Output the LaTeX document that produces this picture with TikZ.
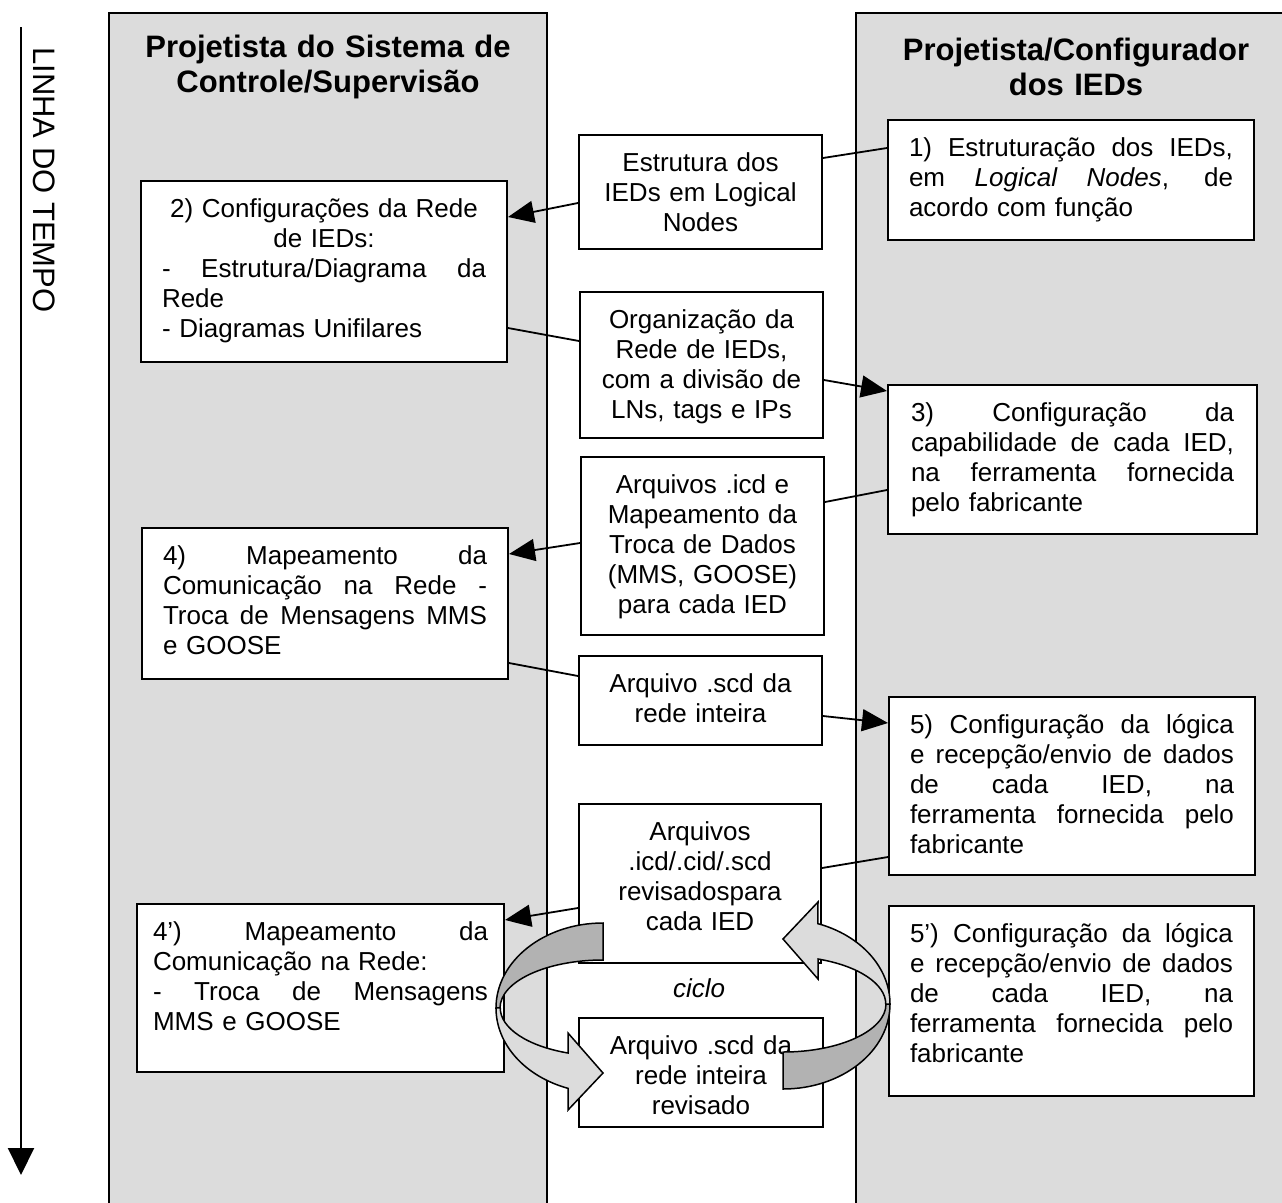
\documentclass[tikz,border=0pt]{standalone}
\usepackage{fontspec}
\setmainfont{Liberation Sans}
\usetikzlibrary{arrows.meta}

\definecolor{cinzaraia}{HTML}{DCDCDC}
\definecolor{cinzafita}{HTML}{B2B2B2}

% linha justificada (espacos esticados ate a largura da caixa)
\newcommand{\jl}[1]{\makebox[\linewidth][s]{\spaceskip=0pt\xspaceskip=0pt\relax #1}}

\tikzset{
  raia/.style={draw, fill=cinzaraia, line width=2pt, anchor=north west, inner sep=0pt,
    align=center, font=\fontsize{31}{35}\selectfont\bfseries},
  etapa/.style={draw, fill=white, line width=2pt, anchor=north west, inner xsep=21pt,
    inner ysep=6pt, text height=30pt, align=left, font=\fontsize{26}{30}\selectfont},
  arquivo/.style={etapa, inner xsep=10pt, align=center},
  liga/.style={line width=1.8pt},
  seta/.style={liga, -{Triangle[length=26pt,width=22pt]}},
  fita/.style={line width=1.5pt},
}

\begin{document}
\begin{tikzpicture}[x=1pt, y=-1pt]

\useasboundingbox (0,0) rectangle (1282,1202);

% raias dos dois projetistas
\node[raia, text width=438pt, text height=44pt, text depth=1166pt] (raiaSup) at (108,12)
  {Projetista do Sistema de\\Controle/Supervisão};
\node[raia, text width=440pt, text height=47pt, text depth=1163pt] (raiaIED) at (855,12)
  {Projetista/Configurador\\dos IEDs};

% linha do tempo
\coordinate (tIni) at (21,27);
\coordinate (tFim) at (21,1175);
\draw[line width=2pt, -{Triangle[length=27pt,width=26pt]}] (tIni) -- (tFim);
\node[rotate=-90, font=\fontsize{31}{35}\selectfont] (tempo) at (44,180) {LINHA DO TEMPO};

% etapas
\node[etapa, text width=324pt, text depth=78pt] (et1) at (887,119)
  {\jl{1) Estruturação dos IEDs,}\\
   \jl{em \textit{Logical Nodes}, de}\\
   acordo com função};
\node[etapa, text width=324pt, text depth=139pt] (et2) at (140,180)
  {\makebox[\linewidth]{2) Configurações da Rede}\\
   \makebox[\linewidth]{de IEDs:}\\
   \jl{- Estrutura/Diagrama da}\\
   Rede\\
   - Diagramas Unifilares};
\node[etapa, inner xsep=23pt, text width=323pt, text depth=107pt] (et3) at (887,384)
  {\jl{3) Configuração da}\\
   \jl{capabilidade de cada IED,}\\
   \jl{na ferramenta fornecida}\\
   pelo fabricante};
\node[etapa, text width=324pt, text depth=109pt] (et4) at (141,527)
  {\jl{4) Mapeamento da}\\
   \jl{Comunicação na Rede -}\\
   \jl{Troca de Mensagens MMS}\\
   e GOOSE};
\node[etapa, text width=324pt, text depth=136pt] (et5) at (888,696)
  {\jl{5) Configuração da lógica}\\
   \jl{e recepção/envio de dados}\\
   \jl{de cada IED, na}\\
   \jl{ferramenta fornecida pelo}\\
   fabricante};
\node[etapa, inner xsep=16pt, text width=335pt, text depth=126pt] (et4r) at (136,903)
  {\jl{4’) Mapeamento da}\\
   Comunicação na Rede:\\
   \jl{- Troca de Mensagens}\\
   MMS e GOOSE};
\node[etapa, text width=323pt, text depth=148pt] (et5r) at (888,905)
  {\jl{5’) Configuração da lógica}\\
   \jl{e recepção/envio de dados}\\
   \jl{de cada IED, na}\\
   \jl{ferramenta fornecida pelo}\\
   fabricante};

% arquivos trocados
\node[arquivo, text width=223pt, text depth=72pt] (doc1) at (578,134)
  {Estrutura dos\\IEDs em Logical\\Nodes};
\node[arquivo, text width=223pt, text depth=104pt] (doc2) at (579,291)
  {Organização da\\Rede de IEDs,\\com a divisão de\\LNs, tags e IPs};
\node[arquivo, text width=223pt, text depth=136pt] (doc3) at (580,456)
  {Arquivos .icd e\\Mapeamento da\\Troca de Dados\\(MMS, GOOSE)\\para cada IED};
\node[arquivo, text width=223pt, text depth=47pt] (doc4) at (578,655)
  {Arquivo .scd da\\rede inteira};
\node[arquivo, text width=222pt, text depth=117pt] (doc5) at (578,803)
  {Arquivos\\.icd/.cid/.scd\\revisadospara\\cada IED};
\node[arquivo, text width=224pt, text depth=67pt] (doc6) at (578,1017)
  {Arquivo .scd da\\rede inteira\\revisado};

% ligacoes
\draw[liga] ([yshift=-29pt]et1.north west) -- ([yshift=-24pt]doc1.north east);
\draw[seta] ([yshift=-69pt]doc1.north west) -- ([yshift=-37pt]et2.north east);
\draw[liga] ([yshift=-148pt]et2.north east) -- ([yshift=-50pt]doc2.north west);
\draw[seta] ([yshift=-89pt]doc2.north east) -- ([yshift=-7pt]et3.north west);
\draw[liga] ([yshift=-106pt]et3.north west) -- ([yshift=-46pt]doc3.north east);
\draw[seta] ([yshift=-87pt]doc3.north west) -- ([yshift=-27pt]et4.north east);
\draw[liga] ([yshift=-136pt]et4.north east) -- ([yshift=-21pt]doc4.north west);
\draw[seta] ([yshift=-61pt]doc4.north east) -- ([yshift=-27pt]et5.north west);
\draw[liga] ([yshift=-161pt]et5.north west) -- ([yshift=-65pt]doc5.north east);
\draw[seta] ([yshift=-105pt]doc5.north west) -- ([yshift=-17pt]et4r.north east);

% ciclo: fita da esquerda
\filldraw[fita, fill=cinzafita] (603,923)
  arc[start angle=270, end angle=180, x radius=107, y radius=85] -- (500,1008)
  arc[start angle=180, end angle=270, x radius=103, y radius=48] -- cycle;
\filldraw[fita, fill=cinzaraia] (496,1008)
  arc[start angle=180, end angle=109, x radius=107, y radius=85]
  -- (568,1110) -- (603,1073) -- (568,1033) -- (568,1053)
  arc[start angle=110, end angle=180, x radius=103, y radius=48] -- cycle;

% ciclo: fita da direita (mesma fita girada)
\begin{scope}[rotate around={180:(693,1006)}]
  \filldraw[fita, fill=cinzafita] (603,923)
    arc[start angle=270, end angle=180, x radius=107, y radius=85] -- (500,1008)
    arc[start angle=180, end angle=270, x radius=103, y radius=48] -- cycle;
  \filldraw[fita, fill=cinzaraia] (496,1008)
    arc[start angle=180, end angle=109, x radius=107, y radius=85]
    -- (568,1110) -- (603,1073) -- (568,1033) -- (568,1053)
    arc[start angle=110, end angle=180, x radius=103, y radius=48] -- cycle;
\end{scope}

\node[font=\fontsize{26}{30}\selectfont\itshape] (ciclo) at (699,988) {ciclo};

\end{tikzpicture}
\end{document}
